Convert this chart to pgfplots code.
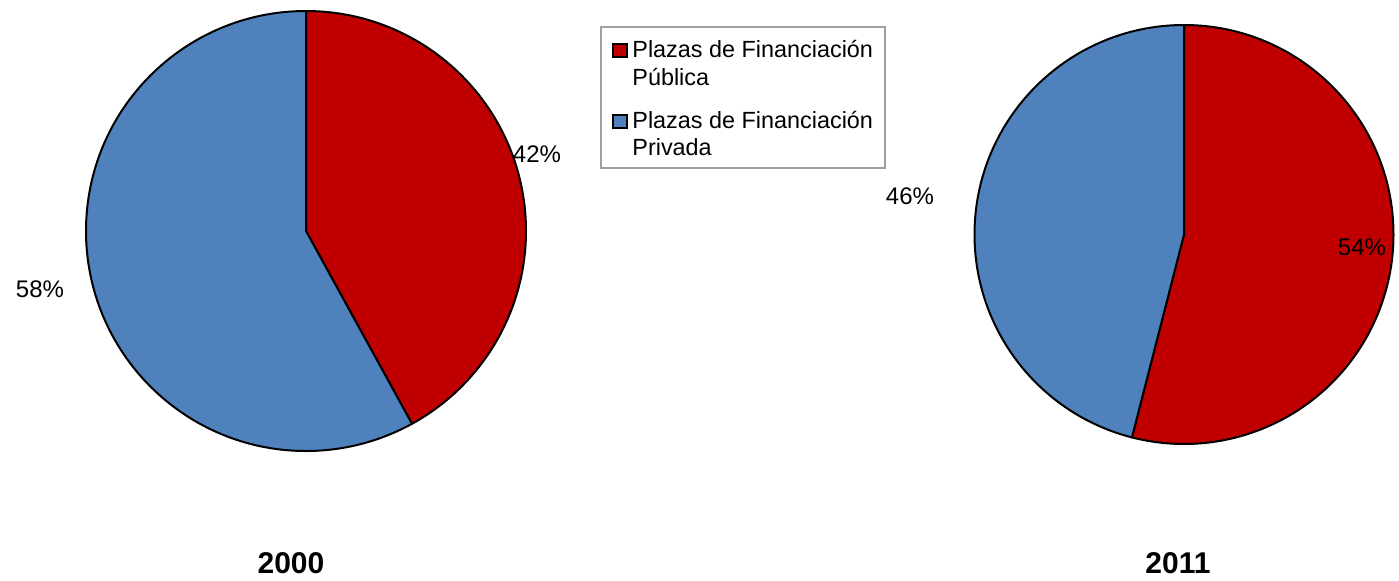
\documentclass[border=0pt]{standalone}
\usepackage{pgfplots}
\pgfplotsset{compat=1.18}
\usepackage{fontspec}
\setmainfont{Liberation Sans}
\definecolor{pubred}{RGB}{192,0,0}
\definecolor{privblue}{RGB}{79,129,189}

% share of public places (%), the rest is private
\def\pubA{42}
\def\pubB{54}

% one pie: centre x, centre y (px units), radius, public share
\newcommand{\pie}[4]{%
  \filldraw[fill=pubred, draw=black, line width=1pt, line join=round]
    (axis cs:#1,#2) -- ++(90:#3) arc[start angle=90, end angle={90-3.6*#4}, radius=#3] -- cycle;
  \filldraw[fill=privblue, draw=black, line width=1pt, line join=round]
    (axis cs:#1,#2) -- ++(90:#3) arc[start angle=90, end angle={90+3.6*(100-#4)}, radius=#3] -- cycle;
}

\begin{document}
\begin{tikzpicture}
\begin{axis}[
  scale only axis,
  width=699.5pt,
  height=290pt,
  xmin=0, xmax=1399,
  ymin=0, ymax=580,
  y dir=reverse,
  hide axis,
  clip=false,
]
\pie{306}{231}{110pt}{\pubA}
\pie{1184}{234.5}{104.75pt}{\pubB}

% slice labels
\node[anchor=base, font=\fontsize{12}{13.5}\selectfont] at (axis cs:537,162) {42\%};
\node[anchor=base, font=\fontsize{12}{13.5}\selectfont] at (axis cs:40,297) {58\%};
\node[anchor=base, font=\fontsize{12}{13.5}\selectfont] at (axis cs:910,204) {46\%};
\node[anchor=base, font=\fontsize{12}{13.5}\selectfont] at (axis cs:1362,255) {54\%};

% titles
\node[anchor=base, font=\fontsize{15}{18}\selectfont\bfseries] at (axis cs:291,573) {2000};
\node[anchor=base, font=\fontsize{15}{18}\selectfont\bfseries] at (axis cs:1178,573) {2011};

% legend
\draw[gray!75, line width=0.75pt] (axis cs:601,27) rectangle (axis cs:885,168);
\filldraw[fill=pubred, draw=black, line width=1pt] (axis cs:613,44) rectangle (axis cs:627,57);
\filldraw[fill=privblue, draw=black, line width=1pt] (axis cs:613,115) rectangle (axis cs:627,128);
\node[anchor=base west, inner sep=0pt, font=\fontsize{11.7}{13.5}\selectfont] at (axis cs:632,57) {Plazas de Financiación};
\node[anchor=base west, inner sep=0pt, font=\fontsize{11.7}{13.5}\selectfont] at (axis cs:632,85) {Pública};
\node[anchor=base west, inner sep=0pt, font=\fontsize{11.7}{13.5}\selectfont] at (axis cs:632,128) {Plazas de Financiación};
\node[anchor=base west, inner sep=0pt, font=\fontsize{11.7}{13.5}\selectfont] at (axis cs:632,155) {Privada};
\end{axis}
\pgfresetboundingbox
\path (current axis.south west) rectangle (current axis.north east);
\end{tikzpicture}
\end{document}
